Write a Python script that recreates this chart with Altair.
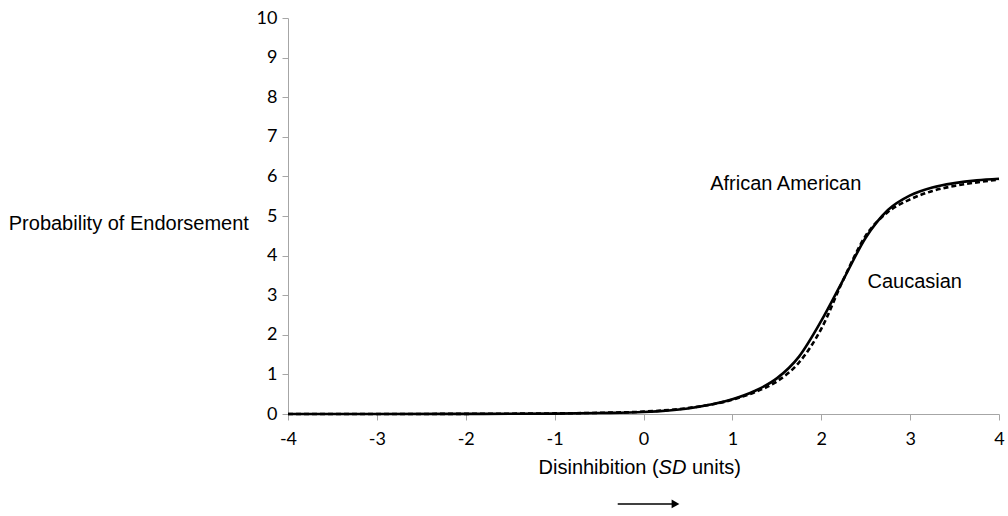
import altair as alt
import pandas as pd

# Predicted endorsement curves across disinhibition (SD units)
x_vals = [-4, -3, -2, -1, -0.5, 0, 0.5, 1, 1.25, 1.5, 1.75, 2, 2.25, 2.5, 2.75, 3, 3.25, 3.5, 3.75, 4]
african_american = [0.0, 0.0, 0.003, 0.01, 0.025, 0.05, 0.14, 0.37, 0.58, 0.9, 1.45, 2.35, 3.4, 4.45, 5.15, 5.52, 5.72, 5.83, 5.9, 5.94]
caucasian = [0.0, 0.0, 0.004, 0.015, 0.03, 0.06, 0.15, 0.36, 0.55, 0.82, 1.3, 2.15, 3.4, 4.5, 5.1, 5.42, 5.63, 5.76, 5.85, 5.92]

x_ticks = [-4, -3, -2, -1, 0, 1, 2, 3, 4]
y_ticks = list(range(0, 11))

GROUP_LABELS = [
    {"label": "African American", "x": 0.75, "y": 5.81},
    {"label": "Caucasian", "x": 2.52, "y": 3.33},
]

df = pd.DataFrame(
    {"x": x_vals * 2,
     "y": african_american + caucasian,
     "group": ["African American"] * len(x_vals) + ["Caucasian"] * len(x_vals)}
)

AXIS_GREY = "#a6a6a6"
TEXT_FONT = "Liberation Sans"
TICK_FONT = "Lato"
# integer labels with a plain hyphen for negatives
LABEL_EXPR = "datum.value < 0 ? '-' + abs(datum.value) : '' + datum.value"

x_scale = alt.Scale(domain=[-4, 4], nice=False, zero=False)
y_scale = alt.Scale(domain=[0, 10], nice=False)

x_axis = alt.Axis(values=x_ticks, title=None, grid=False, domainColor=AXIS_GREY,
                  tickColor=AXIS_GREY, tickSize=6, labelPadding=10,
                  labelFont=TICK_FONT, labelFontSize=18, labelColor="#000000",
                  labelFlush=False, labelOverlap=False, labelExpr=LABEL_EXPR)
y_axis = alt.Axis(values=y_ticks, title=None, grid=False, domainColor=AXIS_GREY,
                  tickColor=AXIS_GREY, tickSize=6, labelPadding=5,
                  labelFont=TICK_FONT, labelFontSize=18, labelColor="#000000",
                  labelFlush=False, labelOverlap=False, labelExpr=LABEL_EXPR)


# every layer carries the same scale and axis so they merge cleanly
def px(v):
    return alt.XDatum(v, scale=x_scale, axis=x_axis)


def py(v):
    return alt.YDatum(v, scale=y_scale, axis=y_axis)


X_FIELD = alt.X("x:Q", scale=x_scale, axis=x_axis)
Y_FIELD = alt.Y("y:Q", scale=y_scale, axis=y_axis)

base = alt.Chart(df)

aa_line = base.transform_filter(alt.datum.group == "African American").mark_line(
    color="#000000", strokeWidth=2.6, interpolate="monotone"
).encode(x=X_FIELD, y=Y_FIELD)

ca_line = base.transform_filter(alt.datum.group == "Caucasian").mark_line(
    color="#000000", strokeWidth=2.6, strokeDash=[5, 3], interpolate="monotone"
).encode(x=X_FIELD, y=Y_FIELD)

group_text = alt.Chart(pd.DataFrame(GROUP_LABELS)).mark_text(
    align="left", baseline="middle", font=TEXT_FONT, fontSize=20, color="#000000"
).encode(x=X_FIELD, y=Y_FIELD, text="label:N")

# y-axis title, set horizontally to the left of the axis
y_title = alt.Chart(pd.DataFrame({"t": ["Probability of Endorsement"]})).mark_text(
    align="right", baseline="middle", font=TEXT_FONT, fontSize=20, color="#000000"
).encode(x=px(-4.44), y=py(4.8), text="t:N")

# x-axis title with the italic "SD"
x_title_a = alt.Chart(pd.DataFrame({"t": ["Disinhibition ("]})).mark_text(
    align="right", baseline="middle", font=TEXT_FONT, fontSize=20, color="#000000"
).encode(x=px(0.17), y=py(-1.37), text="t:N")
x_title_b = alt.Chart(pd.DataFrame({"t": ["SD"]})).mark_text(
    align="left", baseline="middle", font=TEXT_FONT, fontSize=20, fontStyle="italic",
    color="#000000"
).encode(x=px(0.17), y=py(-1.37), text="t:N")
x_title_c = alt.Chart(pd.DataFrame({"t": ["units)"]})).mark_text(
    align="left", baseline="middle", font=TEXT_FONT, fontSize=20, color="#000000"
).encode(x=px(0.545), y=py(-1.37), text="t:N")

# direction arrow under the axis title
ARROW_Y = -2.27
arrow_shaft = alt.Chart(pd.DataFrame({"a": [0]})).mark_rule(
    color="#000000", strokeWidth=1.5
).encode(x=px(-0.29), x2=alt.X2Datum(0.33), y=py(ARROW_Y))
arrow_head = alt.Chart(pd.DataFrame({"a": [0]})).mark_point(
    shape="triangle-right", filled=True, color="#000000", size=80, opacity=1
).encode(x=px(0.36), y=py(ARROW_Y))

chart = alt.layer(
    aa_line, ca_line, group_text, y_title, x_title_a, x_title_b, x_title_c,
    arrow_shaft, arrow_head
).properties(
    width=711, height=396,
    background="#ffffff",
    autosize=alt.AutoSizeParams(type="none"),
    padding={"left": 288, "top": 18, "right": 9, "bottom": 102},
).configure_view(stroke=None)

chart.save("out.html", embed_options={"renderer": "svg", "actions": False})
